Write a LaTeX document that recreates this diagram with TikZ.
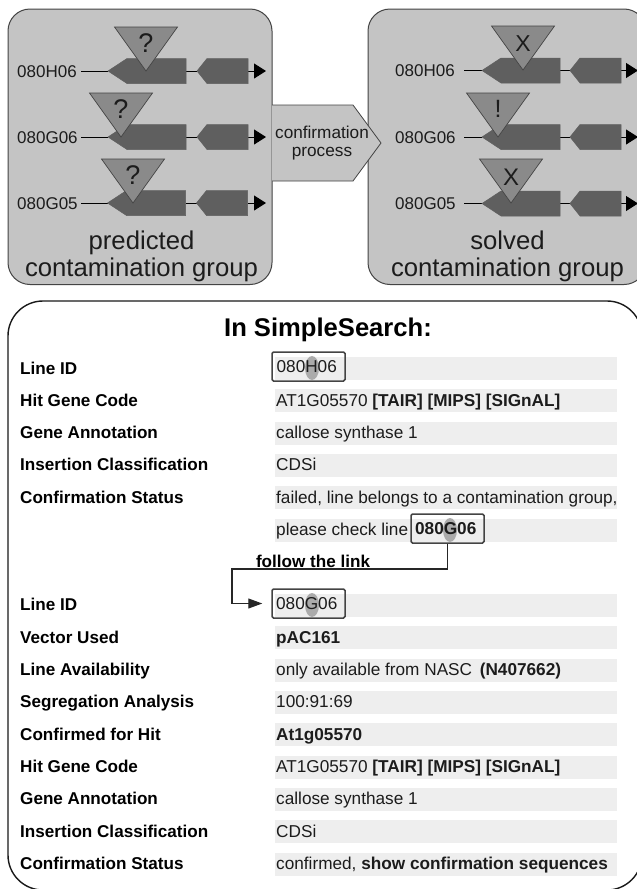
\documentclass[tikz,border=0pt]{standalone}
\usepackage{fontspec}
\setmainfont{Liberation Sans}
\usetikzlibrary{arrows.meta,shapes.geometric,calc}
\definecolor{panelfill}{HTML}{C4C4C4}
\definecolor{panelline}{HTML}{444444}
\definecolor{genefill}{HTML}{5F5F5F}
\definecolor{trifill}{HTML}{8A8A8A}
\definecolor{barfill}{HTML}{EEEEEE}
\definecolor{inktext}{HTML}{1C1C1C}
\definecolor{spotfill}{HTML}{ABABAB}
\tikzset{
  x=1pt,y=-1pt,
  panel/.style={draw=panelline,line width=1pt,fill=panelfill,rounded corners=22},
  genebody/.style={fill=genefill,draw=genefill!85!white,line width=.5pt},
  marker/.style={fill=trifill,draw=panelline,line width=.7pt},
  thin line/.style={draw=black,line width=.9pt},
  rowlabel/.style={inner sep=0pt,anchor=base west,text=inktext,font=\fontsize{17}{17}\selectfont},
  caption/.style={inner sep=0pt,align=center,text=inktext,font=\fontsize{25.7}{27}\selectfont},
  key/.style={inner sep=0pt,anchor=base west,text=black,font=\fontsize{17.1}{17.1}\selectfont\bfseries},
  val/.style={inner sep=0pt,anchor=base west,text=inktext,font=\fontsize{17.2}{17.2}\selectfont},
  bar/.style={fill=barfill,draw=none},
  linkbox/.style={draw=panelline,line width=1.5pt,rounded corners=1.5pt,minimum width=73,minimum height=29,inner sep=0pt,text=inktext,font=\fontsize{17.2}{17.2}\selectfont},
  spot/.style={fill=spotfill,draw=none},
}
\newcommand{\boxtext}[1]{\raisebox{-1.5pt}{\kern-3.5pt #1}}
\newcommand{\generow}[8]{%
  % id, y, label x, line start x, gene tip x, gene2 tip x, arrow end x, label
  \node[rowlabel] (lab#1) at (#3,#2+6) {#8};
  \coordinate (start#1) at (#4,#2);
  \coordinate (tip#1) at (#5,#2);
  \coordinate (end#1) at (#5+78,#2);
  \coordinate (tipb#1) at (#6,#2);
  \coordinate (endb#1) at (#6+51,#2);
  \coordinate (out#1) at (#7,#2);
  \draw[thin line] (start#1) -- (tip#1);
  \draw[thin line] (end#1) -- (tipb#1);
  \draw[thin line,-{Triangle[length=12,width=15]}] (endb#1) -- (out#1);
  \fill[genebody,draw=genefill] (tip#1) -- (#5+19,#2-12.5) -- (#5+78,#2-12.5) -- (#5+78,#2+12.5) -- (#5+19,#2+12.5) -- cycle;
  \fill[genebody,draw=genefill] (tipb#1) -- (#6+10,#2-12.5) -- (#6+51,#2-12.5) -- (#6+51,#2+12.5) -- (#6+10,#2+12.5) -- cycle;
}
\newcommand{\flag}[6]{%
  % id, apex x, apex y, symbol, size, symbol offset above apex
  \filldraw[marker] (#2-31.5,#3-44) -- (#2+31.5,#3-44) -- (#2,#3) -- cycle;
  \node[inner sep=0pt,text=inktext,font=\fontsize{#5}{#5}\selectfont] (flag#1) at (#2,#3-#6) {#4};
}
\newcommand{\datarow}[3]{%
  % y, key, value
  \fill[bar] (275,#1-11.5) rectangle (617,#1+11.5);
  \ifx\relax#2\relax\else\node[key] at (20,#1+5.7) {#2};\fi
  \node[val] at (276,#1+5.7) {#3};
}
\begin{document}
\begin{tikzpicture}
\useasboundingbox (0,0) rectangle (637,889);
\fill[white] (0,0) rectangle (637,889);
% top panels
\draw[panel] (8,9) rectangle (272,284.5);
\draw[panel] (368,9) rectangle (646,284.5);
\generow{a}{71}{17}{81}{108}{197}{266}{080H06}
\generow{b}{137}{17}{81}{108}{197}{266}{080G06}
\generow{c}{203}{17}{81}{107.5}{196.5}{266}{080G05}
\generow{d}{70.5}{395}{464}{482}{570}{638}{080H06}
\generow{e}{137}{395}{464}{482}{570}{638}{080G06}
\generow{f}{203.5}{395}{464}{482}{570}{638}{080G05}
\flag{a}{146}{71}{?}{27}{28}
\flag{b}{121}{137}{?}{27}{28}
\flag{c}{133}{203}{?}{27}{28}
\flag{d}{523}{70}{X}{23}{26}
\flag{e}{498}{137}{!}{25}{28}
\flag{f}{511}{203}{X}{24}{26}
\node[caption] (capl) at (141.5,256) {predicted\\contamination group};
\node[caption] (capr) at (507.5,256) {solved\\contamination group};
% process arrow
\filldraw[fill=panelfill,draw=panelline,line width=.8pt] (272,105) -- (353,105) -- (381,143) -- (353,181) -- (272,181);
\node[inner sep=0pt,align=center,text=inktext,font=\fontsize{17.2}{17.5}\selectfont] (proc) at (322,143) {confirmation\\process};
% lower panel
\draw[draw=black!90,line width=1.4pt,rounded corners=35] (8,301) rectangle (642,890);
\node[inner sep=0pt,text=black,font=\fontsize{25.6}{25.6}\selectfont\bfseries] (title) at (328,330) {In SimpleSearch:};
\datarow{368.5}{Line ID}{}
\datarow{400.5}{Hit Gene Code}{AT1G05570 \textbf{[TAIR] [MIPS] [SIGnAL]}}
\datarow{433}{Gene Annotation}{callose synthase 1}
\datarow{465}{Insertion Classification}{CDSi}
\datarow{497.5}{Confirmation Status}{failed, line belongs to a contamination group,}
\datarow{530}{}{please check line}
\datarow{605}{Line ID}{}
\datarow{637.5}{Vector Used}{\textbf{pAC161}}
\datarow{670}{Line Availability}{only available from NASC\, \textbf{(N407662)}}
\datarow{702}{Segregation Analysis}{100:91:69}
\datarow{734.5}{Confirmed for Hit}{\textbf{At1g05570}}
\datarow{767}{Hit Gene Code}{AT1G05570 \textbf{[TAIR] [MIPS] [SIGnAL]}}
\datarow{799}{Gene Annotation}{callose synthase 1}
\datarow{831.5}{Insertion Classification}{CDSi}
\datarow{864}{Confirmation Status}{confirmed, \textbf{show confirmation sequences}}
% highlighted ids
\fill[spot] (312,368) ellipse (7 and 12);
\fill[spot] (450,530) ellipse (7 and 12);
\fill[spot] (312,605) ellipse (7 and 12);
\node[linkbox] (boxa) at (308.5,366.5) {\boxtext{080H06}};
\node[linkbox,font=\fontsize{17.2}{17.2}\selectfont\bfseries] (boxb) at (447.5,528.5) {\boxtext{080G06}};
\node[linkbox] (boxc) at (308.5,603.5) {\boxtext{080G06}};
\coordinate (bendb) at (232,569);
\draw[draw=black!85,line width=1.1pt,-{Triangle[length=14,width=10]},shorten >=9pt] (boxb.south) |- (bendb) |- (boxc.west);
\node[key,anchor=base] (follow) at (313,567.5) {follow the link};
\end{tikzpicture}
\end{document}
